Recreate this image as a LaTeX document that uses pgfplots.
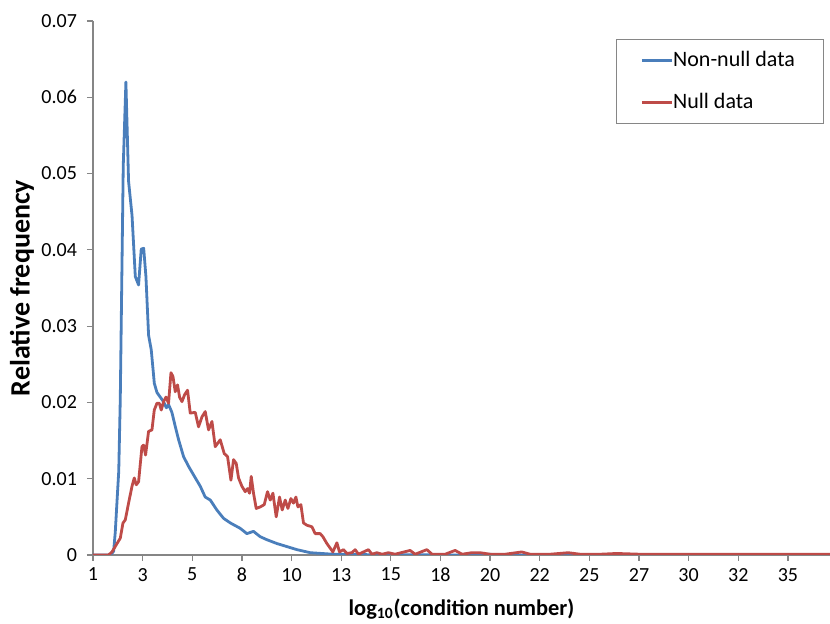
\documentclass[border=0pt]{standalone}
\usepackage{fontspec}
\setmainfont{Carlito}
\usepackage{pgfplots}
\pgfplotsset{compat=1.18}

\definecolor{nonnull}{HTML}{4A7EBB}
\definecolor{nulldata}{HTML}{BE4B48}
\definecolor{axisgray}{HTML}{868686}

\begin{document}
\begin{tikzpicture}
\useasboundingbox (-46.5pt,-34.5pt) rectangle (368.5pt,277.5pt);
\begin{axis}[
  at={(0,0)}, anchor=south west,
  scale only axis, width=368.5pt, height=267pt,
  xmin=1, xmax=37.06, ymin=0, ymax=0.07,
  axis x line=bottom, axis y line=left,
  axis line style={-, axisgray, line width=0.6pt},
  tick style={axisgray, line width=0.6pt},
  tick align=outside, major tick length=3pt,
  scaled y ticks=false,
  xtick={1,3.4286,5.8571,8.2857,10.7143,13.1429,15.5714,18,20.4286,22.8571,25.2857,27.7143,30.1429,32.5714,35},
  xticklabels={1,3,5,8,10,13,15,18,20,22,25,27,30,32,35},
  ytick={0,0.01,0.02,0.03,0.04,0.05,0.06,0.07},
  yticklabels={0,0.01,0.02,0.03,0.04,0.05,0.06,0.07},
  /pgf/number format/assume math mode=true,
  tick label style={font=\fontsize{10}{11}\selectfont},
  yticklabel style={xshift=-1.5pt},
  every axis x label/.style={at={(axis description cs:0.5,-0.1011)}, anchor=center,
    font=\fontsize{11.2}{13}\selectfont\bfseries},
  every axis y label/.style={at={(axis description cs:-0.0963,0.5)}, rotate=90, anchor=center,
    font=\fontsize{14}{16}\selectfont\bfseries},
  xlabel={log\textsubscript{10}(condition number)},
  ylabel={Relative frequency},
  every axis plot/.append style={line width=1.4pt, line join=round, no marks},
  legend cell align=left,
  legend image code/.code={\draw[#1] (0pt,0pt) -- (15pt,0pt);},
  legend style={at={(0.991,0.9657)}, anchor=north east, draw=axisgray,
    font=\fontsize{11}{13}\selectfont, inner xsep=12pt, inner ysep=4pt,
    row sep=7.5pt, column sep=-2pt},
]
\addplot[nonnull] coordinates {
(1.00,0) (1.36,0) (1.75,0) (1.89,0.0001) (2.01,0.0005) (2.09,0.003)
(2.17,0.0068) (2.26,0.011) (2.335,0.0205) (2.48,0.051) (2.61,0.062)
(2.74,0.049) (2.91,0.0445) (3.07,0.0365) (3.23,0.0354) (3.36,0.0401)
(3.48,0.0402) (3.59,0.0365) (3.72,0.0288) (3.85,0.0269) (4.00,0.0225)
(4.13,0.0213) (4.29,0.0207) (4.45,0.0201) (4.59,0.0193) (4.70,0.0197)
(4.86,0.0187) (5.03,0.0168) (5.19,0.0151) (5.43,0.0129) (5.68,0.0116)
(5.92,0.0105) (6.25,0.0090) (6.49,0.0076) (6.74,0.0072) (7.06,0.0059)
(7.39,0.0048) (7.72,0.0042) (8.20,0.0035) (8.53,0.0028) (8.85,0.0031)
(9.18,0.0024) (9.51,0.0020) (10.00,0.0015) (10.49,0.0011) (10.98,0.0007)
(11.63,0.0003) (12.75,0.0001) (14.07,0.00005) (16.0,0.00002) (20.0,0)
(20.4,0.0001) (20.8,0) (37.06,0)
};
\addlegendentry{Non-null data}
\addplot[nulldata] coordinates {
(1.00,0) (1.763,0) (1.929,0.0004) (2.174,0.0015) (2.335,0.0022) (2.467,0.0042)
(2.580,0.0046) (2.741,0.0068) (2.907,0.0090) (3.020,0.0101) (3.118,0.0092)
(3.230,0.0096) (3.396,0.0142) (3.475,0.0144) (3.572,0.0131) (3.719,0.0162)
(3.885,0.0164) (3.998,0.0190) (4.130,0.0199) (4.242,0.0199) (4.340,0.0190)
(4.453,0.0201) (4.570,0.0207) (4.697,0.0199) (4.815,0.0239) (4.912,0.0234)
(5.025,0.0214) (5.137,0.0223) (5.235,0.0207) (5.353,0.0201) (5.480,0.0210)
(5.626,0.0216) (5.758,0.0186) (6.003,0.0187) (6.164,0.0168) (6.331,0.0181)
(6.492,0.0188) (6.653,0.0164) (6.820,0.0175) (6.981,0.0142) (7.226,0.0151)
(7.421,0.0133) (7.583,0.0129) (7.749,0.0098) (7.876,0.0125) (8.008,0.0120)
(8.121,0.0101) (8.287,0.0090) (8.448,0.0083) (8.561,0.0087) (8.659,0.0081)
(8.742,0.0103) (8.854,0.0081) (8.986,0.0061) (9.182,0.0063) (9.378,0.0066)
(9.539,0.0083) (9.671,0.0072) (9.803,0.0081) (9.964,0.0050) (10.126,0.0076)
(10.258,0.0059) (10.405,0.0072) (10.537,0.0061) (10.683,0.0074) (10.810,0.0068)
(10.928,0.0076) (11.026,0.0063) (11.172,0.0066) (11.299,0.0042) (11.466,0.0039)
(11.710,0.0037) (11.872,0.0028) (12.116,0.0028) (12.248,0.0024) (12.444,0.0015)
(12.605,0.0009) (12.737,0.0004) (12.933,0.0016) (13.060,0.0004) (13.256,0.0007)
(13.422,0.0002) (13.666,0.0003) (13.828,0.0007) (13.989,0.0001) (14.234,0.0004)
(14.478,0.0007) (14.644,0.0001) (14.889,0.0003) (15.15,0.0001) (15.456,0.0003)
(15.78,0.0001) (16.517,0.0006) (16.76,0.0001) (17.334,0.0007) (17.59,0.0001)
(18.23,0.0001) (18.718,0.0006) (19.06,0.0001) (19.535,0.0003) (19.94,0.0003)
(20.43,0.0001) (21.16,0.0001) (21.980,0.0004) (22.39,0.0001) (23.36,0.0001)
(24.259,0.0003) (24.83,0.0001) (25.81,0.0001) (26.626,0.0002) (27.77,0.0001)
(28.76,0.0001) (30.22,0.0001) (31.69,0.0001) (33.64,0.0001) (35.60,0.0001)
(37.06,0.0001)
};
\addlegendentry{Null data}
\end{axis}
\end{tikzpicture}
\end{document}
